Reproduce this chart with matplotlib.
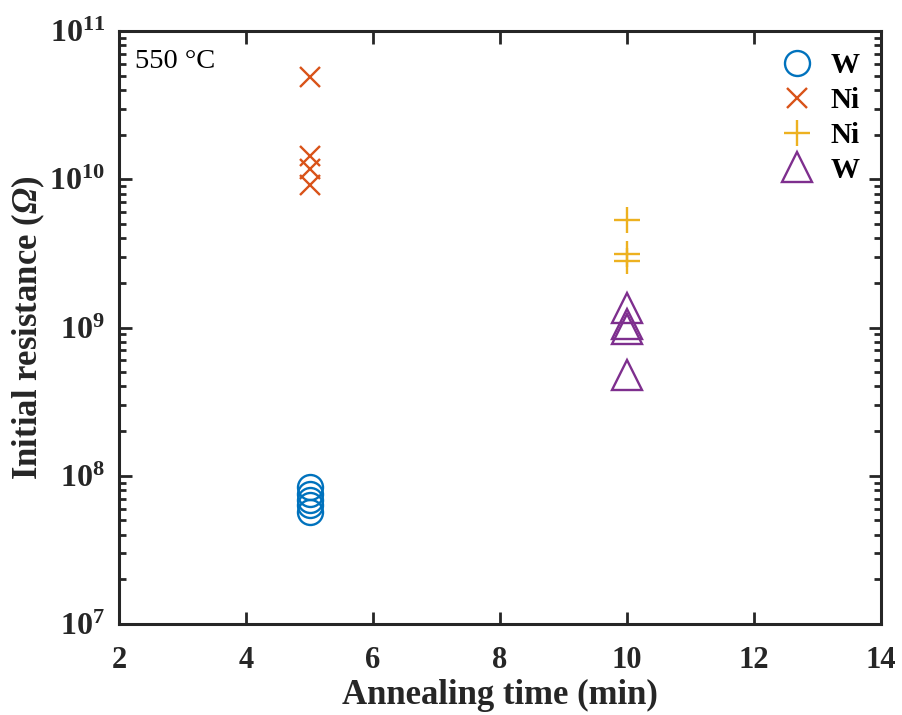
import numpy as np
import matplotlib
matplotlib.use("Agg")
import matplotlib.pyplot as plt
from matplotlib.ticker import FixedLocator, LogLocator, NullFormatter

plt.rcParams['font.family'] = ['Liberation Serif', 'DejaVu Serif']
plt.rcParams['mathtext.fontset'] = 'custom'
plt.rcParams['mathtext.rm'] = 'Liberation Serif'
plt.rcParams['mathtext.bf'] = 'Liberation Serif:bold'
# bold italic face for the ohm sign
plt.rcParams['mathtext.sf'] = 'Liberation Serif:italic:bold'

# resistance measurements (ohm) per anneal time (min)
w5_time = [5, 5, 5, 5, 5]
w5_res = [8.4e7, 7.5e7, 6.9e7, 6.3e7, 5.7e7]

ni5_time = [5, 5, 5, 5]
ni5_res = [4.9e10, 1.43e10, 1.18e10, 9.2e9]

ni10_time = [10, 10, 10]
ni10_res = [5.3e9, 3.15e9, 2.8e9]

w10_time = [10, 10, 10, 10]
w10_res = [1.35e9, 1.05e9, 9.7e8, 4.8e8]

x_ticks = [2, 4, 6, 8, 10, 12, 14]
y_ticks = [1e7, 1e8, 1e9, 1e10, 1e11]
y_tick_labels = [r'$\mathbf{10^{7}}$', r'$\mathbf{10^{8}}$', r'$\mathbf{10^{9}}$',
                 r'$\mathbf{10^{10}}$', r'$\mathbf{10^{11}}$']

colors = ['#0072BD', '#D95319', '#EDB120', '#7E2F8E']
ink = '#262626'

fig = plt.figure(figsize=(9.03, 7.15), dpi=100)
ax = fig.add_axes([0.1318, 0.1273, 0.8438, 0.8293])

ax.plot(w5_time, w5_res, 'o', ms=18, mfc='none', mec=colors[0], mew=1.7, label='W')
ax.plot(ni5_time, ni5_res, 'x', ms=14, mec=colors[1], mew=1.7, label='Ni')
ax.plot(ni10_time, ni10_res, '+', ms=19, mec=colors[2], mew=1.7, label='Ni')
ax.plot(w10_time, w10_res, '^', ms=21, mfc='none', mec=colors[3], mew=1.7, label='W')

ax.set_yscale('log')
ax.set_xlim(2, 14)
ax.set_ylim(1e7, 1e11)
ax.xaxis.set_major_locator(FixedLocator(x_ticks))
ax.set_xticklabels([str(t) for t in x_ticks], fontweight='bold')
ax.yaxis.set_major_locator(FixedLocator(y_ticks))
ax.set_yticklabels(y_tick_labels)
ax.yaxis.set_minor_locator(LogLocator(base=10, subs=np.arange(2, 10)))
ax.yaxis.set_minor_formatter(NullFormatter())

for side in ax.spines.values():
    side.set_linewidth(2.2)
    side.set_color(ink)
ax.tick_params(which='both', direction='in', top=True, right=True,
               colors=ink, width=2.0)
ax.tick_params(which='major', length=9)
ax.tick_params(which='minor', length=5)
ax.tick_params(axis='x', pad=16, labelsize=22)
ax.tick_params(axis='y', pad=10, labelsize=23)

ax.set_xlabel('Annealing time (min)', fontsize=25, fontweight='bold', color=ink, labelpad=3)
ax.set_ylabel(r'Initial resistance ($\mathsf{Ω}$)', fontsize=25, fontweight='bold',
              color=ink, labelpad=2)

ax.text(0.021, 0.949, '550 °C', transform=ax.transAxes, fontsize=20.5,
        color='black', ha='left', va='center')

leg = ax.legend(loc='upper right', frameon=False, numpoints=1,
                prop={'weight': 'bold', 'size': 21}, handletextpad=0.5,
                labelspacing=0.27, borderaxespad=0.32, handlelength=1.3)

fig.savefig('out.png', dpi=100)
